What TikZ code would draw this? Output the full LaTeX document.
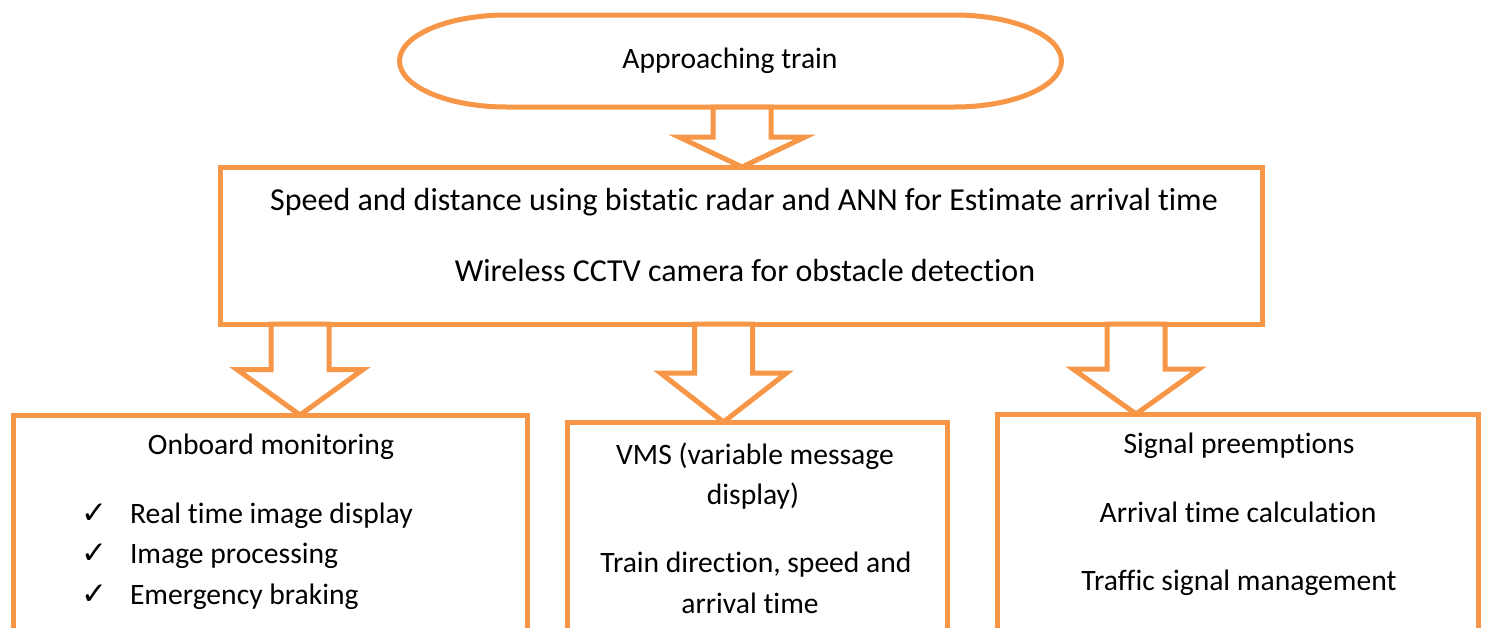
\documentclass[tikz,border=0pt]{standalone}
\usepackage{fontspec}
\setmainfont{Carlito}[RawFeature=-liga]
\newfontfamily\symfont{DejaVu Sans}
\usetikzlibrary{calc}
\definecolor{accent}{HTML}{F79646}
\tikzset{
  frame/.style={draw=accent, line width=5pt, fill=white, rectangle, inner sep=0pt, outer sep=0pt},
  lbl/.style={anchor=base, inner sep=0pt, outer sep=0pt, font=\fontsize{29.6}{35}\selectfont},
  biglbl/.style={lbl, font=\fontsize{32}{38}\selectfont},
  blockarrow/.style={draw=accent, line width=5pt, fill=white,
    to path={let \p1=(\tikztostart), \p2=(\tikztotarget), \n1={(\y1-\y2)/2} in
      (\x1-29pt,\y1) -- (\x1-29pt,{\y2+\n1*1pt}) -- (\x1-63pt,{\y2+\n1*1pt}) -- (\x2,\y2)
      -- (\x1+63pt,{\y2+\n1*1pt}) -- (\x1+29pt,{\y2+\n1*1pt}) -- (\x1+29pt,\y1) -- cycle}},
}
\begin{document}
\begin{tikzpicture}[x=1pt,y=-1pt]
\useasboundingbox (0,0) rectangle (1485,627);
\clip (0,0) rectangle (1485,627);

% terminator at the top
\node[frame, draw=none, fill=none, minimum width=662pt, minimum height=92pt] (train) at (730.5,61) {};
\draw[accent, line width=5pt, fill=white]
  ([xshift=107pt]train.north west) -- ([xshift=-107pt]train.north east)
  arc[start angle=90, end angle=-90, x radius=107pt, y radius=46pt]
  -- ([xshift=107pt]train.south west)
  arc[start angle=270, end angle=90, x radius=107pt, y radius=46pt] -- cycle;
\node[lbl] (traintxt) at (730,68) {Approaching train};

% sensing stage
\node[frame, minimum width=1042pt, minimum height=157pt] (sense) at (741,245.5) {};
\node[biglbl] (sense1) at (744,210) {Speed and distance using bistatic radar and ANN for Estimate arrival time};
\node[biglbl] (sense2) at (745,281) {Wireless CCTV camera for obstacle detection};

% output stages
\node[frame, minimum width=514pt, minimum height=305pt] (onboard) at (270,567.5) {};
\node[frame, minimum width=380pt, minimum height=298pt] (vms) at (757,571) {};
\node[frame, minimum width=481pt, minimum height=306pt] (signal) at (1237.5,567) {};

\node[lbl] (ob0) at (271,454) {Onboard monitoring};
\node[lbl, anchor=base west] (ob1) at (130,523) {Real time image display};
\node[lbl, anchor=base west] (ob2) at (130,563) {Image processing};
\node[lbl, anchor=base west] (ob3) at (130,604) {Emergency braking};
\foreach \b/\y in {ob1/523, ob2/563, ob3/604}
  \node[lbl, font=\symfont\fontsize{31}{36}\selectfont] (chk\b) at (94,\y) {✓};

\node[lbl] (vms1) at (755,464) {VMS (variable message};
\node[lbl] (vms2) at (753,504) {display)};
\node[lbl] (vms3) at (756,572) {Train direction, speed and};
\node[lbl] (vms4) at (750,613) {arrival time};

\node[lbl] (sig1) at (1239,453) {Signal preemptions};
\node[lbl] (sig2) at (1238,522) {Arrival time calculation};
\node[lbl] (sig3) at (1239,590) {Traffic signal management};

% block arrows between stages
\draw[blockarrow] (742,0 |- train.south) to (742,0 |- sense.north);
\draw[blockarrow] (300,0 |- sense.south) to (300,0 |- onboard.north);
\draw[blockarrow] (723.5,0 |- sense.south) to (723.5,0 |- vms.north);
\draw[blockarrow] (1136,0 |- sense.south) to (1136,0 |- signal.north);
\end{tikzpicture}
\end{document}
